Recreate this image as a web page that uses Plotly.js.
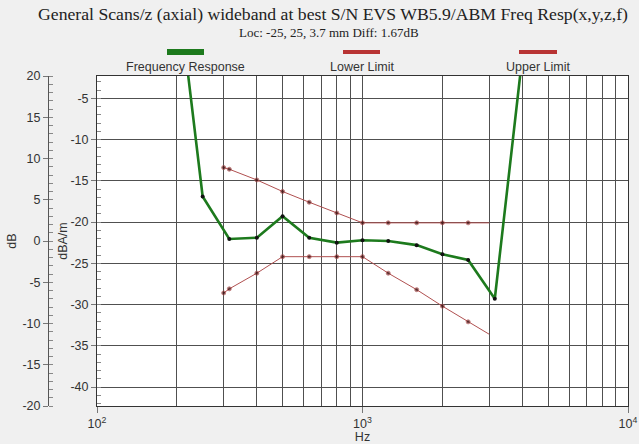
<!DOCTYPE html>
<html>
<head>
<meta charset="utf-8">
<script src="https://cdn.plot.ly/plotly-3.0.1.min.js"></script>
<style>
  html, body { margin: 0; padding: 0; background: #f0f0f0; }
  #chart { width: 639px; height: 444px; }
</style>
</head>
<body>
<div id="chart"></div>
<script>
// Third-octave measurement frequencies (Hz) and measured response (dBA/m)
const freqs = [200, 250, 315, 400, 500, 630, 800, 1000, 1250, 1600, 2000, 2500, 3150, 4000];
const response = [9.2, -16.9, -22.05, -21.9, -19.3, -21.9, -22.5, -22.2, -22.3, -22.8, -23.9, -24.6, -29.3, 0.1];

// Tolerance mask (dBA/m), shifted onto the measured curve
const limitFreqs = [300, 315, 400, 500, 630, 800, 1000, 1250, 1600, 2000, 2500, 3000];
const lowerLimit = [-28.6, -28.1, -26.2, -24.2, -24.2, -24.2, -24.2, -26.2, -28.2, -30.2, -32.1, -33.6];
const upperLimit = [-13.4, -13.6, -14.9, -16.3, -17.6, -18.9, -20.1, -20.1, -20.1, -20.1, -20.1, -20.1];

// Axis labels
const legendNames = ['Frequency Response', 'Lower Limit', 'Upper Limit'];
const decadeTicks = [100, 1000, 10000];
const decadeLabels = ['10<sup>2</sup>', '10<sup>3</sup>', '10<sup>4</sup>'];
const dbaTicks = [-5, -10, -15, -20, -25, -30, -35, -40];
const dbTicks = [20, 15, 10, 5, 0, -5, -10, -15, -20];

const W = 639, H = 444;
const M = { l: 0, r: 11, t: 76, b: 38 };
const plotW = W - M.l - M.r, plotH = H - M.t - M.b;
const px = x => (x - M.l) / plotW;            // pixel -> paper x
const py = y => (H - M.b - y) / plotH;        // pixel -> paper y

const green = '#1d7a1d';
const red = '#b83434';
const limitLine = '#b05050';

// grid positions at 2..9 within each decade
const minorGrid = [];
for (let d = 100; d < 10000; d *= 10) {
  for (let k = 2; k <= 9; k++) minorGrid.push(k * d);
}

const noEnd = arr => arr.map((_, i) => (i === arr.length - 1 ? 0 : 4));
const asText = arr => arr.map(v => String(v));   // plain hyphen-minus labels

const traces = [
  {
    x: limitFreqs, y: lowerLimit, type: 'scatter', mode: 'lines+markers',
    name: legendNames[1],
    line: { color: limitLine, width: 1 },
    marker: { color: '#3a0a0a', size: noEnd(limitFreqs) },
    showlegend: false, hoverinfo: 'x+y'
  },
  {
    x: limitFreqs, y: upperLimit, type: 'scatter', mode: 'lines+markers',
    name: legendNames[2],
    line: { color: limitLine, width: 1 },
    marker: { color: '#3a0a0a', size: noEnd(limitFreqs) },
    showlegend: false, hoverinfo: 'x+y'
  },
  {
    x: freqs, y: response, type: 'scatter', mode: 'lines+markers',
    name: legendNames[0],
    line: { color: green, width: 2.6 },
    marker: { color: '#111', size: 4 },
    showlegend: false, hoverinfo: 'x+y'
  },
  { x: [], y: [], yaxis: 'y2', type: 'scatter', showlegend: false, hoverinfo: 'skip' }
];

const tickFont = { family: 'Liberation Sans, Arial, sans-serif', size: 12.5, color: '#333' };

const layout = {
  width: W, height: H,
  margin: M,
  paper_bgcolor: '#f0f0f0',
  plot_bgcolor: '#ffffff',
  showlegend: false,
  font: tickFont,
  title: {
    text: 'General Scans/z (axial) wideband at best S/N EVS WB5.9/ABM Freq Resp(x,y,z,f)',
    font: { family: 'Liberation Serif, Times New Roman, serif', size: 17.7, color: '#222' },
    x: 333 / W, xanchor: 'center', xref: 'container',
    y: 1 - 14 / H, yanchor: 'middle', yref: 'container'
  },
  xaxis: {
    type: 'log', range: [2, 4], domain: [px(97), 1],
    tickmode: 'array', tickvals: decadeTicks, ticktext: decadeLabels,
    ticks: 'outside', ticklen: 6, tickcolor: '#777',
    showgrid: true, gridcolor: '#505050', gridwidth: 1,
    minor: { tickmode: 'array', tickvals: minorGrid, showgrid: true, gridcolor: '#505050', gridwidth: 1, ticks: '' },
    showline: true, linecolor: '#333', linewidth: 1, mirror: true,
    tickfont: tickFont, zeroline: false,
    title: { text: 'Hz', font: tickFont, standoff: 1 }
  },
  yaxis: {
    range: [-42.3, -2.3],
    tickmode: 'array', tickvals: dbaTicks, ticktext: asText(dbaTicks),
    ticks: 'outside', ticklen: 5, tickcolor: '#777',
    minor: { dtick: 1, tick0: 0, ticks: 'inside', ticklen: 4, tickcolor: '#888', showgrid: false },
    showgrid: true, gridcolor: '#505050', gridwidth: 1,
    showline: true, linecolor: '#333', linewidth: 1, mirror: true,
    zeroline: false, tickfont: tickFont,
    title: { text: 'dBA/m', font: tickFont, standoff: 0 }
  },
  yaxis2: {
    overlaying: 'y', anchor: 'free', side: 'left', position: px(48),
    range: [-20, 20],
    tickmode: 'array', tickvals: dbTicks, ticktext: asText(dbTicks),
    ticks: 'outside', ticklen: 5, tickcolor: '#777',
    minor: { dtick: 1, tick0: 0, ticks: 'inside', ticklen: 4, tickcolor: '#888', showgrid: false },
    showgrid: false, zeroline: false,
    showline: true, linecolor: '#555', linewidth: 1,
    tickfont: tickFont,
    title: { text: 'dB', font: tickFont, standoff: 2 }
  },
  shapes: [
    { type: 'rect', xref: 'paper', yref: 'paper', x0: px(167), x1: px(204), y0: py(55), y1: py(49), fillcolor: green, line: { width: 0 } },
    { type: 'rect', xref: 'paper', yref: 'paper', x0: px(343), x1: px(380), y0: py(54), y1: py(50), fillcolor: red, line: { width: 0 } },
    { type: 'rect', xref: 'paper', yref: 'paper', x0: px(519), x1: px(557), y0: py(54), y1: py(50), fillcolor: red, line: { width: 0 } }
  ],
  annotations: [
    { text: 'Loc: -25, 25, 3.7 mm Diff: 1.67dB', xref: 'paper', yref: 'paper', x: px(329), y: py(33),
      xanchor: 'center', yanchor: 'middle', showarrow: false,
      font: { family: 'Liberation Serif, Times New Roman, serif', size: 13, color: '#222' } },
    { text: legendNames[0], xref: 'paper', yref: 'paper', x: px(185.5), y: py(67), xanchor: 'center', yanchor: 'middle', showarrow: false, font: tickFont },
    { text: legendNames[1], xref: 'paper', yref: 'paper', x: px(361.5), y: py(67), xanchor: 'center', yanchor: 'middle', showarrow: false, font: tickFont },
    { text: legendNames[2], xref: 'paper', yref: 'paper', x: px(538), y: py(67), xanchor: 'center', yanchor: 'middle', showarrow: false, font: tickFont }
  ]
};

Plotly.newPlot('chart', traces, layout, { staticPlot: true, displayModeBar: false });
</script>
</body>
</html>
